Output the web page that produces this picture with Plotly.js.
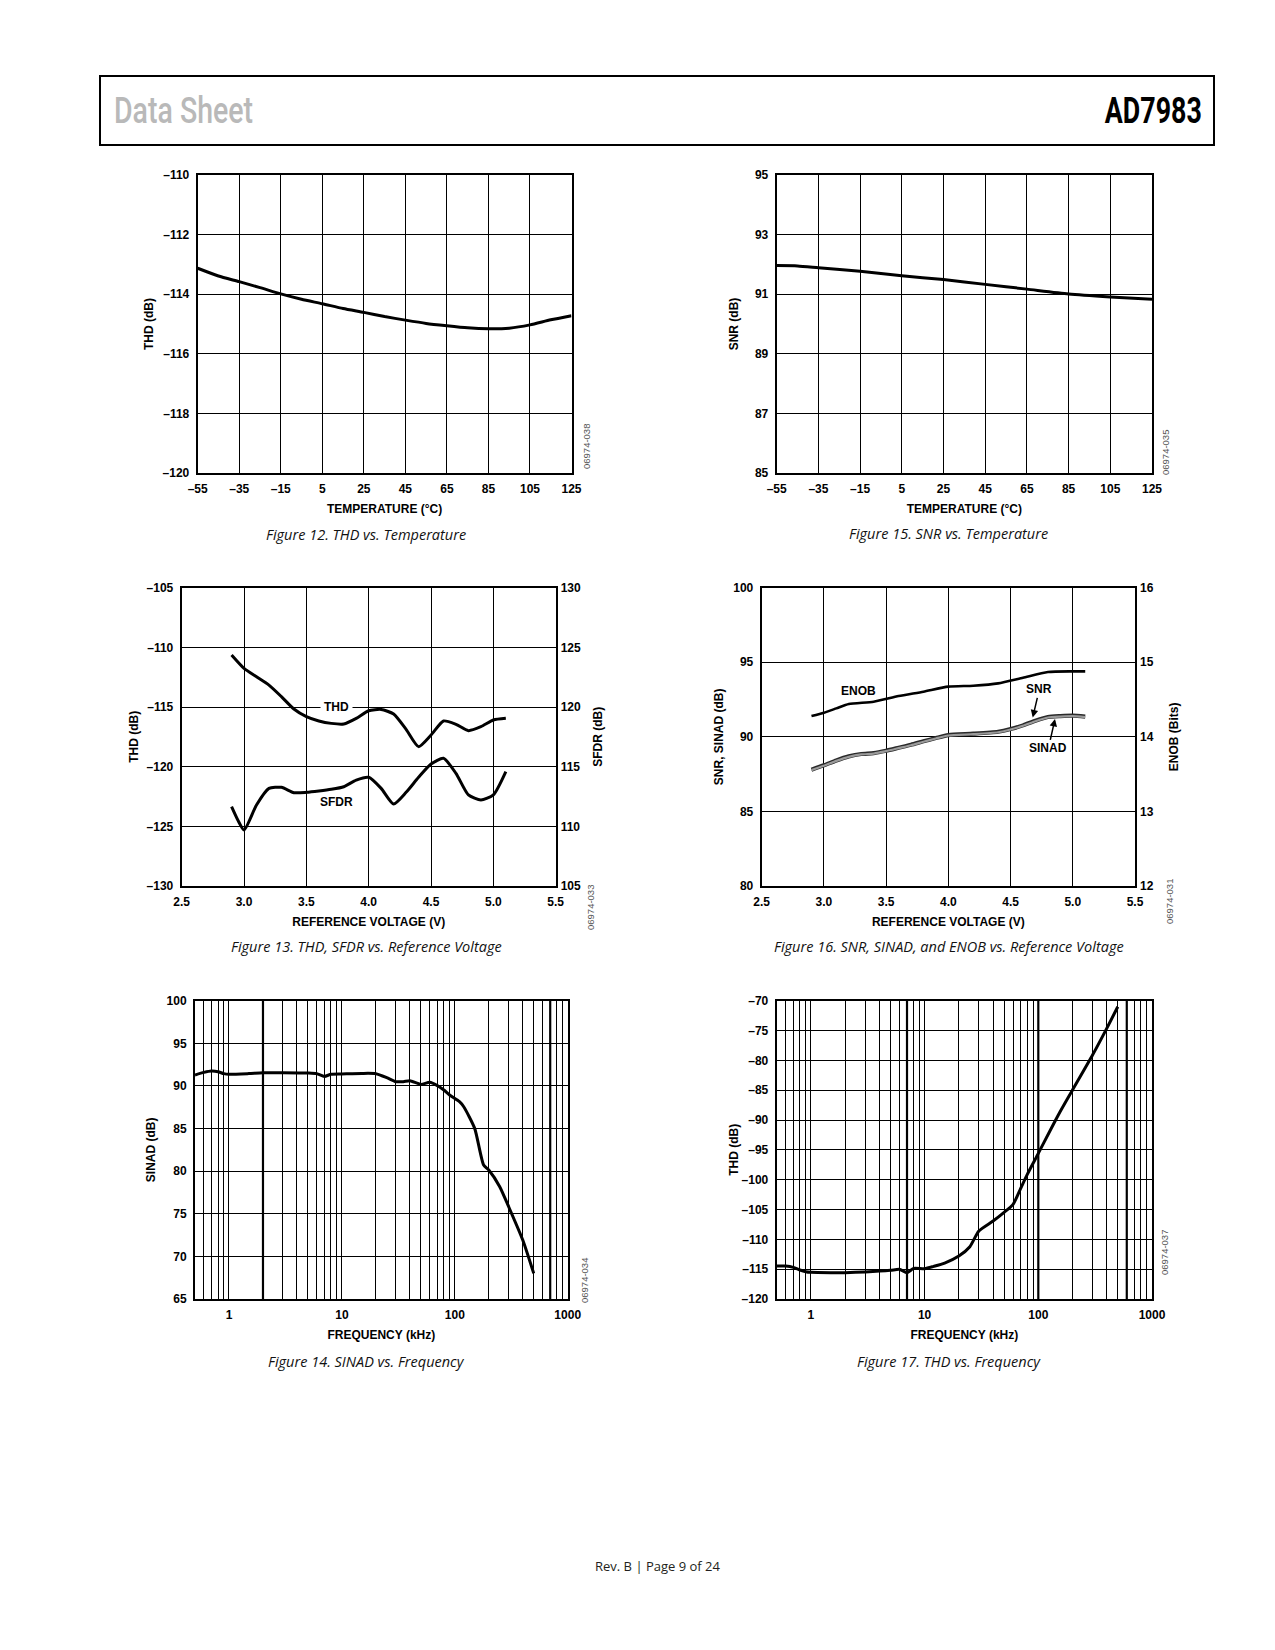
<!DOCTYPE html>
<html><head><meta charset="utf-8">
<script src="https://cdn.plot.ly/plotly-3.0.1.min.js"></script>
<style>
html,body{margin:0;padding:0;background:#fff;}
body{position:relative;width:1275px;height:1650px;}
#page{position:absolute;left:0;top:0;width:1275px;height:1650px;}
.hdr{position:absolute;z-index:10;white-space:nowrap;font-family:Roboto,"Liberation Sans",sans-serif;font-size:37px;line-height:37px;top:91.5px;}
#ds{left:114px;color:#b9b9b9;font-weight:500;transform-origin:left center;}
#pn{color:#000;font-weight:700;transform-origin:right center;}
</style>
</head><body><div id="page"></div>
<span class="hdr" id="ds">Data Sheet</span>
<span class="hdr" id="pn">AD7983</span>
<script>
// ---------- DATA ----------
// Figure 12: THD vs temperature
const tempC = [-55,-45,-35,-25,-15,-5,5,15,25,35,45,55,65,75,85,95,105,115,125];
const thdVsTemp = [-113.13,-113.39,-113.58,-113.78,-113.99,-114.17,-114.32,-114.48,-114.61,-114.75,-114.87,-114.98,-115.06,-115.13,-115.16,-115.14,-115.03,-114.86,-114.72];
// Figure 15: SNR vs temperature
const tempC15 = [-55,-45,-35,-15,5,25,45,65,85,105,125];
const snrVsTemp = [91.96,91.95,91.89,91.77,91.62,91.49,91.33,91.17,91.01,90.91,90.83];
const tempTicks = [-55,-35,-15,5,25,45,65,85,105,125];
const tempTickLabels = ['\u201355','\u201335','\u201315','5','25','45','65','85','105','125'];
// Figure 13: THD, SFDR vs reference voltage
const vref13 = [2.9,3.0,3.1,3.2,3.3,3.4,3.5,3.6,3.7,3.8,3.9,4.0,4.1,4.2,4.3,4.4,4.5,4.6,4.7,4.8,4.9,5.0,5.1];
const thdVsVref = [-110.64,-111.76,-112.46,-113.16,-114.13,-115.17,-115.81,-116.17,-116.37,-116.42,-115.95,-115.31,-115.2,-115.59,-116.87,-118.32,-117.35,-116.17,-116.45,-116.98,-116.65,-116.09,-115.95];
const vrefSfdr = [2.9,2.95,3.0,3.1,3.2,3.3,3.4,3.5,3.6,3.7,3.8,3.9,4.0,4.1,4.2,4.3,4.4,4.5,4.6,4.7,4.8,4.9,5.0,5.1];
const sfdrVsVref = [111.65,110.53,109.69,111.79,113.18,113.27,112.82,112.85,112.96,113.1,113.32,113.88,114.11,113.18,111.87,112.85,114.11,115.22,115.7,114.44,112.63,112.21,112.63,114.58];
// Figure 16: SNR, SINAD, ENOB vs reference voltage
const vref16 = [2.9,3.0,3.1,3.2,3.3,3.4,3.5,3.6,3.7,3.8,3.9,4.0,4.2,4.4,4.5,4.6,4.7,4.8,4.9,5.0,5.1];
const snrVsVref = [87.80,88.09,88.42,88.69,88.85,88.91,89.07,89.27,89.47,89.70,89.92,90.12,90.21,90.34,90.52,90.77,91.08,91.33,91.39,91.42,91.35];
const sinadVsVref = [87.77,88.06,88.39,88.66,88.82,88.88,89.04,89.24,89.44,89.67,89.89,90.09,90.18,90.31,90.49,90.74,91.05,91.30,91.36,91.39,91.32];
const vrefEnob = [2.9,3.0,3.1,3.2,3.4,3.6,3.8,4.0,4.2,4.4,4.6,4.8,5.0,5.1];
const enobVsVref = [14.279,14.324,14.382,14.44,14.471,14.547,14.606,14.673,14.686,14.717,14.793,14.869,14.878,14.878];
const vrefTicks = [2.5,3.0,3.5,4.0,4.5,5.0,5.5];
const vrefTickLabels = ['2.5','3.0','3.5','4.0','4.5','5.0','5.5'];
// Figure 14: SINAD vs frequency
const freq14 = [0.5,0.6,0.7,0.8,0.9,1,1.5,2,3,5,6,7,8,10,15,20,25,30,35,40,50,60,70,80,90,110,120,150,180,200,250,300,400,500];
const sinadVsFreq = [91.28,91.59,91.75,91.67,91.44,91.36,91.45,91.55,91.55,91.51,91.44,91.12,91.36,91.40,91.47,91.44,90.97,90.50,90.50,90.61,90.18,90.42,90.03,89.52,88.93,88.15,87.56,85.02,80.72,80.13,78.18,75.83,71.92,68.01];
// Figure 17: THD vs frequency
const freq17 = [0.5,0.6,0.7,0.8,0.9,1,1.5,2,3,5,6,7,8,10,12,15,20,25,30,40,50,60,70,80,100,150,200,300,400,500];
const thdVsFreq = [-114.47,-114.47,-114.69,-115.14,-115.42,-115.53,-115.59,-115.59,-115.47,-115.2,-115.03,-115.59,-114.86,-114.92,-114.53,-113.97,-112.79,-111.23,-108.6,-106.93,-105.47,-104.13,-101.45,-99.11,-95.59,-89.16,-84.97,-79.11,-74.64,-71.01];
const freqGrid = [0.5,0.6,0.7,0.8,0.9,1,2,3,4,5,6,7,8,9,10,20,30,40,50,60,70,80,90,100,200,300,400,500,600,700,800,900,1000];
const freqTickLabels = freqGrid.map(v => ([1,10,100,1000].includes(v) ? String(v) : ''));
const thickGrid14 = [2,700];
const thickGrid17 = [7,100,600];

// ---------- LAYOUT HELPERS ----------
const W = 1275, H = 1650;
const FONT = 'Liberation Sans, Arial, Helvetica, sans-serif';
const CAPFONT = '"Open Sans", Lato, sans-serif';
const xdom = (L,R) => [L/W, R/W];
const ydom = (T,B) => [1-B/H, 1-T/H];
const px = x => x/W, py = y => 1-y/H;
const tickFont = {family:FONT, size:12, color:'#000', weight:'bold'};
const dash = v => (v<0 ? '\u2013'+Math.abs(v) : String(v));
function rangeTicks(a,b,s){const o=[];for(let v=a;v<=b+1e-9;v+=s)o.push(Math.round(v*100)/100);return o;}
function ax(extra, title, standoff){
  const a = Object.assign({
    showgrid:true, gridcolor:'#000', gridwidth:1,
    showline:true, linecolor:'#000', linewidth:2, mirror:true,
    ticks:'', zeroline:false, fixedrange:true, automargin:false,
    tickfont:tickFont, tickmode:'array', ticklabelstandoff:4
  }, extra);
  if(title) a.title = {text:title, font:{family:FONT,size:12,color:'#000',weight:'bold'}, standoff:standoff};
  return a;
}
const XSO = 9;
const line = (w) => ({color:'#000', width:w||3, shape:'spline', smoothing:0.6});

const thd12Ticks = rangeTicks(-120,-110,2);
const snr15Ticks = rangeTicks(85,95,2);
const thd13Ticks = rangeTicks(-130,-105,5);
const sfdr13Ticks = rangeTicks(105,130,5);
const snr16Ticks = rangeTicks(80,100,5);
const enob16Ticks = rangeTicks(12,16,1);
const sinad14Ticks = rangeTicks(65,100,5);
const thd17Ticks = rangeTicks(-120,-70,5);

const layout = {
  width:W, height:H, margin:{l:0,r:0,t:0,b:0}, paper_bgcolor:'#fff', plot_bgcolor:'#fff',
  showlegend:false, font:{family:FONT, color:'#000'},
  // Fig 12
  xaxis: ax({domain:xdom(197.7,571.5), anchor:'y', range:[-55,125], tickvals:tempTicks, ticktext:tempTickLabels}, 'TEMPERATURE (\u00B0C)', XSO),
  yaxis: ax({domain:ydom(175,473), anchor:'x', range:[-120,-110], tickvals:thd12Ticks, ticktext:thd12Ticks.map(dash)}, 'THD (dB)', 6),
  // Fig 15
  xaxis2: ax({domain:xdom(776.7,1152), anchor:'y2', range:[-55,125], tickvals:tempTicks, ticktext:tempTickLabels}, 'TEMPERATURE (\u00B0C)', XSO),
  yaxis2: ax({domain:ydom(175,473), anchor:'x2', range:[85,95], tickvals:snr15Ticks, ticktext:snr15Ticks.map(dash)}, 'SNR (dB)', 14),
  // Fig 13
  xaxis3: ax({domain:xdom(181.7,555.7), anchor:'y3', range:[2.5,5.5], tickvals:vrefTicks, ticktext:vrefTickLabels}, 'REFERENCE VOLTAGE (V)', XSO),
  yaxis3: ax({domain:ydom(587.7,886), anchor:'x3', range:[-130,-105], tickvals:thd13Ticks, ticktext:thd13Ticks.map(dash)}, 'THD (dB)', 5),
  yaxis4: ax({overlaying:'y3', anchor:'x3', side:'right', range:[105,130], tickvals:sfdr13Ticks, ticktext:sfdr13Ticks.map(dash), showgrid:false, showline:false, mirror:false}, 'SFDR (dB)', 13),
  // Fig 16
  xaxis4: ax({domain:xdom(761.7,1135), anchor:'y5', range:[2.5,5.5], tickvals:vrefTicks, ticktext:vrefTickLabels}, 'REFERENCE VOLTAGE (V)', XSO),
  yaxis5: ax({domain:ydom(587.7,886), anchor:'x4', range:[80,100], tickvals:snr16Ticks, ticktext:snr16Ticks.map(dash)}, 'SNR, SINAD (dB)', 7),
  yaxis6: ax({overlaying:'y5', anchor:'x4', side:'right', range:[12,16], tickvals:enob16Ticks, ticktext:enob16Ticks.map(String), showgrid:false, showline:false, mirror:false}, 'ENOB (Bits)', 16),
  // Fig 14
  xaxis5: ax({domain:xdom(195,567.7), anchor:'y7', type:'log', range:[Math.log10(0.5),3], tickvals:freqGrid, ticktext:freqTickLabels}, 'FREQUENCY (kHz)', XSO),
  yaxis7: ax({domain:ydom(1000.7,1299), anchor:'x5', range:[65,100], tickvals:sinad14Ticks, ticktext:sinad14Ticks.map(dash)}, 'SINAD (dB)', 8),
  // Fig 17
  xaxis6: ax({domain:xdom(776.7,1152), anchor:'y8', type:'log', range:[Math.log10(0.5),3], tickvals:freqGrid, ticktext:freqTickLabels}, 'FREQUENCY (kHz)', XSO),
  yaxis8: ax({domain:ydom(1000.7,1299), anchor:'x6', range:[-120,-70], tickvals:thd17Ticks, ticktext:thd17Ticks.map(dash)}, 'THD (dB)', 0),
  shapes:[], annotations:[]
};

// header box
layout.shapes.push({type:'rect', xref:'paper', yref:'paper', x0:px(100), x1:px(1214), y0:py(145), y1:py(76), line:{color:'#000', width:2}});
// heavier grid lines seen on the log plots (shape x uses data values on log axes)
thickGrid14.forEach(v => layout.shapes.push({type:'line', xref:'x5', yref:'y7 domain', x0:v, x1:v, y0:0, y1:1, line:{color:'#000', width:2.2}}));
thickGrid17.forEach(v => layout.shapes.push({type:'line', xref:'x6', yref:'y8 domain', x0:v, x1:v, y0:0, y1:1, line:{color:'#000', width:2.2}}));

const A = layout.annotations;
A.push({xref:'paper', yref:'paper', x:px(657.5), y:py(1566), xanchor:'center', yanchor:'middle', showarrow:false, text:'Rev. B | Page 9 of 24',
  font:{family:CAPFONT, size:13, color:'#231f20'}});
// captions
[[366,534,'Figure 12. THD vs. Temperature'],[948.6,533,'Figure 15. SNR vs. Temperature'],
 [366,946,'Figure 13. THD, SFDR vs. Reference Voltage'],[948.6,946,'Figure 16. SNR, SINAD, and ENOB vs. Reference Voltage'],
 [366,1361,'Figure 14. SINAD vs. Frequency'],[948.6,1361,'Figure 17. THD vs. Frequency']].forEach(c =>
  A.push({xref:'paper', yref:'paper', x:px(c[0]), y:py(c[1]), xanchor:'center', yanchor:'middle', showarrow:false, text:c[2],
    font:{family:CAPFONT, size:14.5, color:'#111', style:'italic'}}));
// figure codes
[[586,447,'06974-038'],[1165,453,'06974-035'],[590,908,'06974-033'],[1169,902,'06974-031'],[584,1281,'06974-034'],[1164,1253,'06974-037']].forEach(c =>
  A.push({xref:'paper', yref:'paper', x:px(c[0]), y:py(c[1]), xanchor:'center', yanchor:'middle', showarrow:false, text:c[2], textangle:-90,
    font:{family:FONT, size:9.5, color:'#555'}}));
// curve labels
const lblFont = {family:FONT, size:12, color:'#000', weight:'bold'};
A.push({xref:'x3', yref:'y3', x:3.74, y:-115, text:'THD', showarrow:false, bgcolor:'#fff', borderpad:3, font:lblFont});
A.push({xref:'x3', yref:'y3', x:3.74, y:-122.93, text:'SFDR', showarrow:false, font:lblFont});
A.push({xref:'x4', yref:'y5', x:3.28, y:93.09, text:'ENOB', showarrow:false, font:lblFont});
A.push({xref:'x4', yref:'y5', x:4.678, y:91.3, ax:4.731, ay:93.18, axref:'x4', ayref:'y5', text:'SNR', showarrow:true,
  arrowhead:2, arrowsize:1, arrowwidth:1.5, arrowcolor:'#000', font:lblFont});
A.push({xref:'x4', yref:'y5', x:4.857, y:91.2, ax:4.804, ay:89.23, axref:'x4', ayref:'y5', text:'SINAD', showarrow:true,
  arrowhead:2, arrowsize:1, arrowwidth:1.5, arrowcolor:'#000', font:lblFont});

const traces = [
  {x:tempC, y:thdVsTemp, xaxis:'x', yaxis:'y', mode:'lines', line:line(3), hoverinfo:'skip'},
  {x:tempC15, y:snrVsTemp, xaxis:'x2', yaxis:'y2', mode:'lines', line:line(3), hoverinfo:'skip'},
  {x:vref13, y:thdVsVref, xaxis:'x3', yaxis:'y3', mode:'lines', line:line(3), hoverinfo:'skip'},
  {x:vrefSfdr, y:sfdrVsVref, xaxis:'x3', yaxis:'y4', mode:'lines', line:line(3), hoverinfo:'skip'},
  {x:vref16, y:snrVsVref, xaxis:'x4', yaxis:'y5', mode:'lines', line:{color:'#2a2a2a', width:4.2, shape:'spline', smoothing:0.6}, hoverinfo:'skip'},
  {x:vref16, y:sinadVsVref, xaxis:'x4', yaxis:'y5', mode:'lines', line:{color:'#9a9a9a', width:2.2, shape:'spline', smoothing:0.6}, hoverinfo:'skip'},
  {x:vrefEnob, y:enobVsVref, xaxis:'x4', yaxis:'y6', mode:'lines', line:line(2.6), hoverinfo:'skip'},
  {x:freq14, y:sinadVsFreq, xaxis:'x5', yaxis:'y7', mode:'lines', line:line(3), hoverinfo:'skip'},
  {x:freq17, y:thdVsFreq, xaxis:'x6', yaxis:'y8', mode:'lines', line:line(3), hoverinfo:'skip'}
];

Plotly.newPlot('page', traces, layout, {displayModeBar:false, staticPlot:true});

// header texts: condensed look obtained by horizontal scaling to the reference widths
function fitHeader(){
  const ds = document.getElementById('ds'), pn = document.getElementById('pn');
  ds.style.transform = 'scaleX(' + (139 / ds.getBoundingClientRect().width) + ')';
  const w = pn.getBoundingClientRect().width;
  pn.style.left = (1202 - w) + 'px';
  pn.style.transform = 'scaleX(' + (97 / w) + ')';
}
fitHeader();
if (document.fonts && document.fonts.ready) document.fonts.ready.then(() => { document.getElementById('ds').style.transform=''; document.getElementById('pn').style.transform=''; fitHeader(); });
</script>
</body></html>
